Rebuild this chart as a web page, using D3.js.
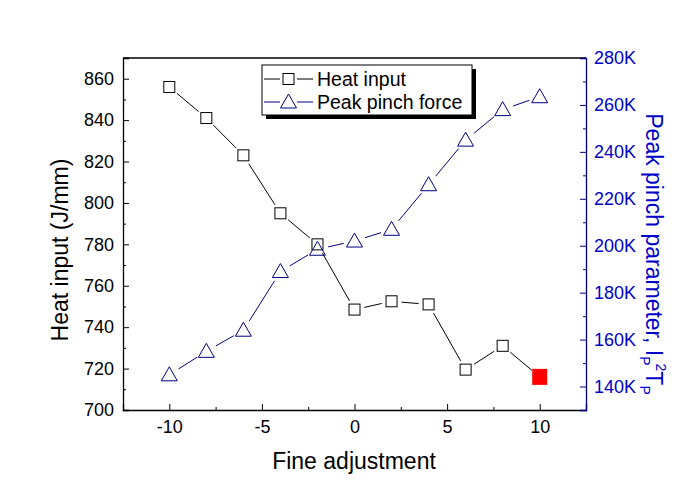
<!DOCTYPE html>
<html>
<head>
<meta charset="utf-8">
<script src="https://cdn.jsdelivr.net/npm/d3@7"></script>
<style>
  body { margin: 0; background: #fff; }
  svg { display: block; font-family: "Liberation Sans", Arial, sans-serif; }
</style>
</head>
<body>
<svg id="chart" width="681" height="492"></svg>
<script>
// ---- Data ----
const fineAdjust = [-10, -8, -6, -4, -2, 0, 2, 4, 6, 8, 10];
const heatInput = [856, 841, 823, 795, 780, 748.5, 752.5, 751, 719.5, 731, 716];
const peakPinch = [145000, 155000, 164000, 189000, 198500, 202000, 207000, 226000, 245000, 258000, 263500];
const xTicks = [-10, -5, 0, 5, 10];
const leftTicks = [700, 720, 740, 760, 780, 800, 820, 840, 860];
const rightTicks = [140000, 160000, 180000, 200000, 220000, 240000, 260000, 280000];
const seriesNames = ["Heat input", "Peak pinch force"];

const svg = d3.select("#chart");
const L = 123, R = 586, T = 58, B = 410;
const blue = "#0000c8", navy = "#000080";
const FONT = "Liberation Sans, Arial, sans-serif";

const x = d3.scaleLinear().domain([-12.5, 12.5]).range([L, R]);
const yL = d3.scaleLinear().domain([700, 870]).range([B, T]);
const yR = d3.scaleLinear().domain([130000, 280000]).range([B, T]);

// frame top
svg.append("line").attr("x1", L).attr("x2", R).attr("y1", T).attr("y2", T).attr("stroke", "#000").attr("stroke-width", 1.3);

// bottom axis
const gx = svg.append("g").attr("transform", `translate(0,${B})`)
  .call(d3.axisBottom(x).tickValues(xTicks).tickSize(-6).tickPadding(10).tickFormat(d => String(d)));
const gxm = svg.append("g").attr("transform", `translate(0,${B})`)
  .call(d3.axisBottom(x).tickValues([-7.5, -2.5, 2.5, 7.5]).tickSize(-3).tickFormat(""));
[gx, gxm].forEach(g => { g.select(".domain").attr("stroke", "#000").attr("stroke-width", 1.3); g.selectAll(".tick line").attr("stroke", "#000"); });
gx.selectAll("text").attr("font-size", 18).attr("fill", "#000").attr("font-family", FONT).attr("dy", "0.72em");
gxm.select(".domain").remove();

// left axis
const gl = svg.append("g").attr("transform", `translate(${L},0)`)
  .call(d3.axisLeft(yL).tickValues(leftTicks).tickSize(-6).tickPadding(9).tickFormat(d => String(d)));
const glm = svg.append("g").attr("transform", `translate(${L},0)`)
  .call(d3.axisLeft(yL).tickValues(d3.range(710, 870, 20)).tickSize(-3).tickFormat(""));
[gl, glm].forEach(g => { g.select(".domain").attr("stroke", "#000").attr("stroke-width", 1.3); g.selectAll(".tick line").attr("stroke", "#000"); });
gl.selectAll("text").attr("font-size", 18).attr("fill", "#000").attr("font-family", FONT);
glm.select(".domain").remove();

// right axis
const gr = svg.append("g").attr("transform", `translate(${R},0)`)
  .call(d3.axisRight(yR).tickValues(rightTicks).tickSize(-6).tickPadding(8).tickFormat(d => (d / 1000) + "K"));
const grm = svg.append("g").attr("transform", `translate(${R},0)`)
  .call(d3.axisRight(yR).tickValues(d3.range(130000, 280001, 20000)).tickSize(-3).tickFormat(""));
[gr, grm].forEach(g => { g.select(".domain").attr("stroke", navy).attr("stroke-width", 1.3); g.selectAll(".tick line").attr("stroke", navy); });
gr.selectAll("text").attr("font-size", 18).attr("fill", blue).attr("font-family", FONT);
grm.select(".domain").remove();

// axis titles
svg.append("text").attr("transform", `translate(68,250) rotate(-90)`)
  .attr("text-anchor", "middle").attr("font-size", 23).attr("fill", "#000")
  .text("Heat input (J/mm)");
svg.append("text").attr("x", 354).attr("y", 469)
  .attr("text-anchor", "middle").attr("font-size", 23).attr("fill", "#000")
  .text("Fine adjustment");
const rt = svg.append("text").attr("transform", `translate(646,254) rotate(90)`)
  .attr("text-anchor", "middle").attr("font-size", 23).attr("fill", blue);
rt.append("tspan").text("Peak pinch parameter, I");
rt.append("tspan").attr("font-size", 14).attr("dy", 6).text("P");
rt.append("tspan").attr("font-size", 14).attr("dy", -16).attr("dx", -2).text("2");
rt.append("tspan").attr("dy", 10).text("T");
rt.append("tspan").attr("font-size", 14).attr("dy", 6).text("P");

// helper: segments with gaps at markers
function gappedSegments(g, pts, gap, color) {
  for (let i = 0; i < pts.length - 1; i++) {
    const [x1, y1] = pts[i], [x2, y2] = pts[i + 1];
    const dx = x2 - x1, dy = y2 - y1, len = Math.hypot(dx, dy);
    if (len <= 2 * gap) continue;
    const ux = dx / len, uy = dy / len;
    g.append("line")
      .attr("x1", x1 + ux * gap).attr("y1", y1 + uy * gap)
      .attr("x2", x2 - ux * gap).attr("y2", y2 - uy * gap)
      .attr("stroke", color).attr("stroke-width", 1);
  }
}

// Heat input series
const hPts = fineAdjust.map((d, i) => [x(d), yL(heatInput[i])]);
const gh = svg.append("g");
gappedSegments(gh, hPts, 10, "#000");
gh.selectAll("rect.sq").data(hPts.slice(0, -1)).join("rect")
  .attr("x", d => d[0] - 5.5).attr("y", d => d[1] - 5.5).attr("width", 11).attr("height", 11)
  .attr("fill", "#fff").attr("stroke", "#000").attr("stroke-width", 1);
const last = hPts[hPts.length - 1];
gh.append("rect").attr("x", last[0] - 7.5).attr("y", last[1] - 8).attr("width", 15).attr("height", 16)
  .attr("fill", "#ff0000");

// Peak pinch series
const pPts = fineAdjust.map((d, i) => [x(d), yR(peakPinch[i])]);
const gp = svg.append("g");
gappedSegments(gp, pPts, 11, navy);
const tri = (cx, cy) => `M${cx},${cy - 8} L${cx + 8},${cy + 6} L${cx - 8},${cy + 6} Z`;
gp.selectAll("path.tri").data(pPts).join("path")
  .attr("d", d => tri(d[0], d[1]))
  .attr("fill", "none").attr("stroke", navy).attr("stroke-width", 1);

// legend
const lg = svg.append("g");
lg.append("rect").attr("x", 266).attr("y", 69).attr("width", 210).attr("height", 50).attr("fill", "#000");
lg.append("rect").attr("x", 262).attr("y", 65).attr("width", 210).attr("height", 50)
  .attr("fill", "#fff").attr("stroke", "#000").attr("stroke-width", 1);
const rows = [{ y: 79, color: "#000", shape: "sq" }, { y: 102, color: navy, shape: "tri" }];
rows.forEach((r, i) => {
  lg.append("line").attr("x1", 264).attr("x2", 280).attr("y1", r.y).attr("y2", r.y).attr("stroke", r.color);
  lg.append("line").attr("x1", 297).attr("x2", 313).attr("y1", r.y).attr("y2", r.y).attr("stroke", r.color);
  if (r.shape === "sq") {
    lg.append("rect").attr("x", 283).attr("y", r.y - 5.5).attr("width", 11).attr("height", 11)
      .attr("fill", "#fff").attr("stroke", "#000");
  } else {
    lg.append("path").attr("d", tri(288.5, r.y)).attr("fill", "none").attr("stroke", navy);
  }
  lg.append("text").attr("x", 317).attr("y", r.y).attr("dy", "0.35em")
    .attr("font-size", 19.5).attr("fill", "#000").text(seriesNames[i]);
});
</script>
</body>
</html>
